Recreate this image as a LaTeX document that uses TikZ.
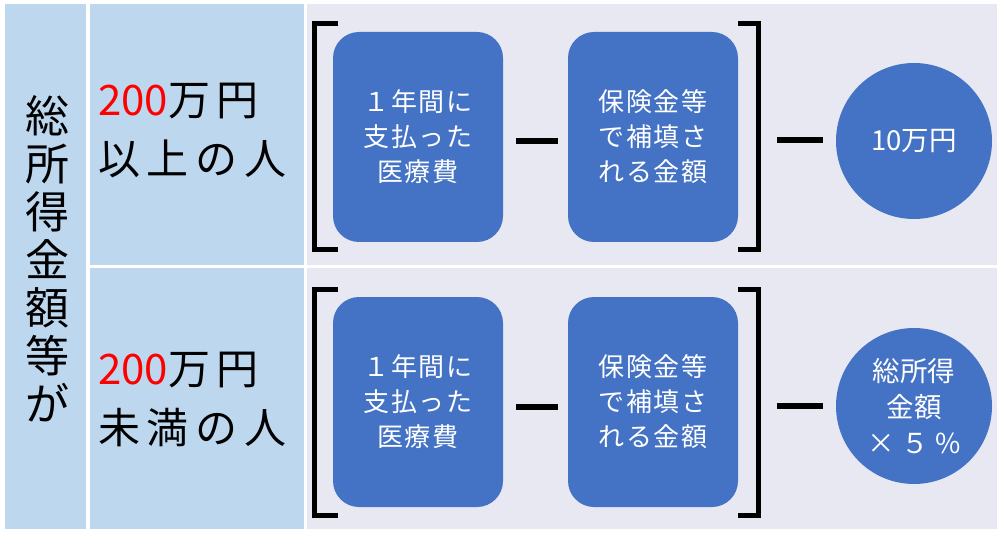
\documentclass[tikz,border=0pt]{standalone}
\usepackage{fontspec}
\setmainfont{Noto Sans CJK JP}
\newfontfamily\jp{Noto Sans CJK JP}
\newfontfamily\jpwide[LetterSpace=16]{Noto Sans CJK JP}
\newfontfamily\jpbox[LetterSpace=6]{Noto Sans CJK JP}
\definecolor{cellblue}{HTML}{BDD7EE}
\definecolor{cellgray}{HTML}{E8E8F2}
\definecolor{boxblue}{HTML}{4472C4}
\definecolor{numred}{HTML}{FF0000}
\newcommand{\rednum}[1]{{\jp\textcolor{numred}{#1}}}
\begin{document}
\begin{tikzpicture}[x=1pt,y=-1pt,
  bluebox/.style={draw=none,fill=boxblue,rounded corners=26pt,minimum width=170pt,minimum height=210pt,
    text=white,font=\jpbox\fontsize{26}{35}\selectfont,align=center,inner sep=0pt},
  bluecirc/.style={circle,draw=none,fill=boxblue,minimum size=156pt,inner sep=0pt,
    text=white,font=\jp\fontsize{27.5}{36}\selectfont,align=center},
  brk/.style={line width=5pt,line cap=butt},
  minusbar/.style={line width=6pt},
  rowlabel/.style={anchor=west,font=\jpwide\fontsize{42}{59}\selectfont,align=left,inner sep=0pt}
]
\useasboundingbox (0,0) rectangle (1000,534);
\fill[white] (0,0) rectangle (1000,534);
% cells
\fill[cellblue] (5,4) rectangle (86,529);
\fill[cellblue] (90,4) rectangle (304,265);
\fill[cellblue] (90,268) rectangle (304,529);
\fill[cellgray] (307,4) rectangle (997,265);
\fill[cellgray] (307,268) rectangle (997,529);
% left vertical label
\node[font=\jp\fontsize{44}{48}\selectfont,align=center,inner sep=0pt] (lbl) at (47,259)
  {総\\所\\得\\金\\額\\等\\が};
% row labels
\node[rowlabel] (r1) at (98,131) {\rednum{200}万円\\以上の人};
\node[rowlabel] (r2) at (98,399) {\rednum{200}万円\\未満の人};
% top row
\node[bluebox] (a1) at (418,137) {１年間に\\支払った\\医療費};
\node[bluebox] (b1) at (653,137) {保険金等\\で補填さ\\れる金額};
\node[bluecirc] (c1) at (914,141) {10万円};
\coordinate (m1a) at (516,141); \coordinate (m1b) at (558,141);
\coordinate (m2a) at (777,140); \coordinate (m2b) at (823,140);
\draw[minusbar] (m1a) -- (m1b);
\draw[minusbar] (m2a) -- (m2b);
\draw[brk] (338,23.5) -- (314.5,23.5) -- (314.5,249.5) -- (338,249.5);
\draw[brk] (738,23.5) -- (758.5,23.5) -- (758.5,249.5) -- (738,249.5);
% bottom row
\node[bluebox] (a2) at (418,402) {１年間に\\支払った\\医療費};
\node[bluebox] (b2) at (653,402) {保険金等\\で補填さ\\れる金額};
\node[bluecirc] (c2) at (914,406) {総所得\\金額\\× ５ \%};
\coordinate (m3a) at (516,407); \coordinate (m3b) at (558,407);
\coordinate (m4a) at (777,406); \coordinate (m4b) at (823,406);
\draw[minusbar] (m3a) -- (m3b);
\draw[minusbar] (m4a) -- (m4b);
\draw[brk] (338,289.5) -- (314.5,289.5) -- (314.5,515.5) -- (338,515.5);
\draw[brk] (738,289.5) -- (758.5,289.5) -- (758.5,515.5) -- (738,515.5);
\end{tikzpicture}
\end{document}
